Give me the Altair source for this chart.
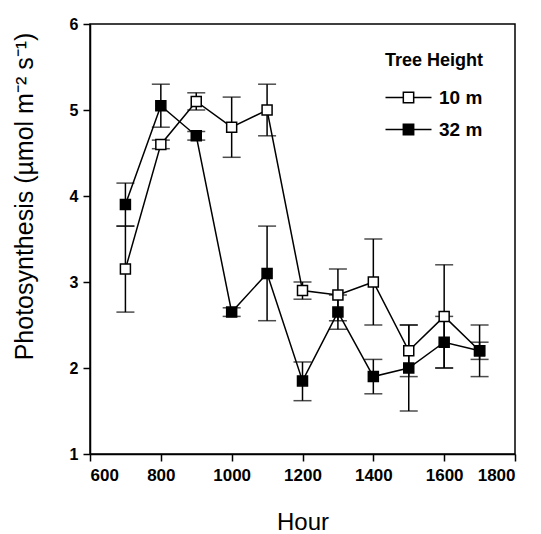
import altair as alt
import pandas as pd

hours = [700, 800, 900, 1000, 1100, 1200, 1300, 1400, 1500, 1600, 1700]
series_names = ["10 m", "32 m"]

m10 = [3.15, 4.6, 5.1, 4.8, 5.0, 2.9, 2.85, 3.0, 2.2, 2.6, 2.2]
m10_lo = [2.65, 4.55, 5.0, 4.45, 4.7, 2.8, 2.55, 2.5, 1.9, 2.0, 2.1]
m10_hi = [3.65, 4.65, 5.2, 5.15, 5.3, 3.0, 3.15, 3.5, 2.5, 3.2, 2.5]

m32 = [3.9, 5.05, 4.7, 2.65, 3.1, 1.85, 2.65, 1.9, 2.0, 2.3, 2.2]
m32_lo = [3.65, 4.8, 4.65, 2.6, 2.55, 1.62, 2.45, 1.7, 1.5, 2.0, 1.9]
m32_hi = [4.15, 5.3, 4.75, 2.7, 3.65, 2.07, 2.85, 2.1, 2.5, 2.6, 2.3]

x_ticks = [600, 800, 1000, 1200, 1400, 1600, 1800]
y_ticks = [1, 2, 3, 4, 5, 6]

rows = []
for s, v, lo, hi in [("10 m", m10, m10_lo, m10_hi), ("32 m", m32, m32_lo, m32_hi)]:
    for h, a, b, c in zip(hours, v, lo, hi):
        rows.append(dict(hour=h, series=s, value=a, lo=b, hi=c))
df = pd.DataFrame(rows)

YTITLE = "Photosynthesis (µmol m⁻² s⁻¹)"
FONT = "Liberation Sans"

xscale = alt.Scale(domain=[600, 1800], nice=False, zero=False)
yscale = alt.Scale(domain=[1, 6], nice=False, zero=False)
xaxis = alt.Axis(values=x_ticks, format="d", title="Hour")
yaxis = alt.Axis(
    values=y_ticks, format="d", title=YTITLE,
    titleX=-66, titleY=172, titleAngle=270, titleAlign="center", titleBaseline="middle",
)

def X():
    return alt.X("hour:Q", scale=xscale, axis=xaxis, title="Hour")

def Y(field):
    return alt.Y(field, scale=yscale, axis=yaxis, title=YTITLE)

base = alt.Chart(df)

err = base.mark_rule(color="black", strokeWidth=1.5).encode(
    x=X(), y=Y("lo:Q"), y2="hi:Q", detail="series:N"
)

caps = base.transform_fold(["lo", "hi"], as_=["k", "cap"]).mark_tick(
    orient="horizontal", size=18, thickness=1.5, color="black"
).encode(x=X(), y=Y("cap:Q"), detail="series:N")

line = base.mark_line(color="black", strokeWidth=1.5).encode(
    x=X(), y=Y("value:Q"), detail="series:N"
)

sym_path = "M-2,0L-0.45,0M-0.45,-0.45L0.45,-0.45L0.45,0.45L-0.45,0.45ZM0.45,0L2,0"

points = base.mark_square(size=100, stroke="black", strokeWidth=1.5, opacity=1, fillOpacity=1).encode(
    x=X(),
    y=Y("value:Q"),
    fill=alt.Fill(
        "series:N",
        scale=alt.Scale(domain=series_names, range=["white", "black"]),
        legend=alt.Legend(
            title="Tree Height",
            orient="none",
            legendX=295,
            legendY=28,
            padding=0,
            symbolType=sym_path,
            symbolSize=529,
            symbolStrokeColor="black",
            symbolStrokeWidth=1.5,
            symbolOffset=11,
            labelOffset=18,
            rowPadding=9,
            titlePadding=15,
            titleFont=FONT,
            titleFontSize=18,
            titleFontWeight="bold",
            titleColor="black",
            labelFont=FONT,
            labelFontSize=19,
            labelFontWeight="bold",
            labelColor="black",
        ),
    ),
)

chart = alt.layer(err, caps, line, points).properties(
    width=425,
    height=430,
    background="white",
    autosize=alt.AutoSizeParams(type="none"),
    padding={"left": 90, "top": 24, "right": 26, "bottom": 80},
).configure_view(
    stroke="black", strokeWidth=1.5
).configure_axis(
    grid=False,
    domainColor="black",
    domainWidth=1.5,
    tickColor="black",
    tickWidth=1.5,
    tickSize=7,
    labelFont=FONT,
    labelFontWeight="bold",
    labelColor="black",
    titleFont=FONT,
    titleFontWeight="normal",
    titleColor="black",
).configure_axisX(
    labelFontSize=17,
    labelPadding=6,
    titleFontSize=24,
    titlePadding=27,
).configure_axisY(
    labelFontSize=16,
    labelPadding=5,
    titleFontSize=25,
)

chart.save("out.html", embed_options={"renderer": "svg", "actions": False})
